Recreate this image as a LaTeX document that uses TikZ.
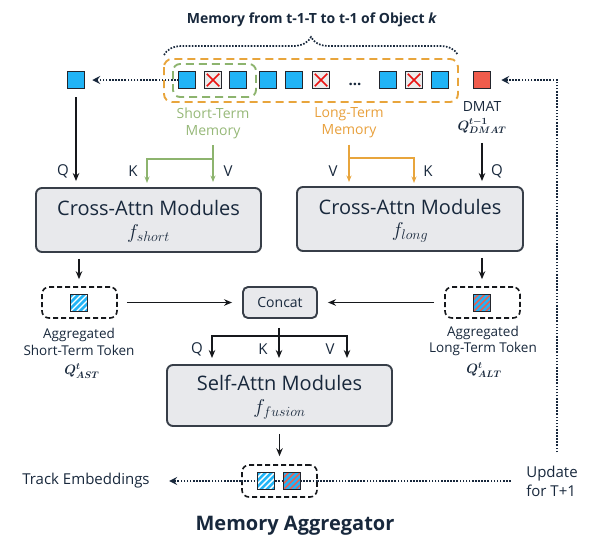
\RequirePackage{fix-cm}
\documentclass[tikz,border=0pt]{standalone}
\usepackage{fontspec}
\setmainfont{Open Sans}
\usetikzlibrary{arrows.meta,decorations.pathreplacing,calc}
\definecolor{myblue}{RGB}{33,180,246}
\definecolor{myred}{RGB}{240,92,76}
\definecolor{xfill}{RGB}{236,236,236}
\definecolor{xred}{RGB}{235,20,20}
\definecolor{sqb}{RGB}{35,38,45}
\definecolor{mgreen}{RGB}{141,180,110}
\definecolor{gtext}{RGB}{150,184,120}
\definecolor{morange}{RGB}{232,165,60}
\definecolor{otext}{RGB}{232,160,60}
\definecolor{tdark}{RGB}{24,40,60}
\definecolor{ablack}{RGB}{22,24,28}
\definecolor{bfill}{RGB}{232,233,236}
\definecolor{bdraw}{RGB}{55,62,72}
\tikzset{
  sq/.style={draw=sqb, line width=1.2pt, fill=myblue, minimum size=16.5pt, inner sep=0pt, outer sep=0pt},
  xsq/.style={sq, fill=xfill, path picture={
     \draw[xred, line width=1.6pt]
       ([shift={(2pt,2pt)}]path picture bounding box.south west) -- ([shift={(-2pt,-2pt)}]path picture bounding box.north east)
       ([shift={(2pt,-2pt)}]path picture bounding box.north west) -- ([shift={(-2pt,2pt)}]path picture bounding box.south east);}},
  hsq/.style={sq, path picture={
     \foreach \s in {-18,-12,...,18}{\draw[#1, line width=1.4pt] ([xshift=\s pt]path picture bounding box.south west) -- ++(22pt,22pt);}}},
  arr/.style={draw=ablack, line width=1.8pt, -{Stealth[length=8pt,width=6.5pt]}},
  garr/.style={draw=mgreen, line width=1.7pt, -{Stealth[length=6.5pt,width=5pt]}},
  oarr/.style={draw=morange, line width=1.7pt, -{Stealth[length=6.5pt,width=5pt]}},
  dotl/.style={draw=tdark, line width=1.7pt, dash pattern=on 1.6pt off 1.5pt},
  dotarr/.style={dotl, -{Stealth[length=8pt,width=8pt,inset=3pt]}},
  modbox/.style={draw=bdraw, fill=bfill, line width=1.9pt, rounded corners=6pt, inner sep=0pt},
  dbox/.style={draw=ablack, line width=1.6pt, dash pattern=on 5pt off 3pt, rounded corners=7pt, inner sep=0pt},
  lbl/.style={text=tdark, font=\fontsize{15}{15}\selectfont},
  small/.style={text=tdark, font=\fontsize{13.5}{16.5}\selectfont, align=center, inner sep=0pt},
  mq/.style={text=tdark, font=\fontsize{13.5}{13.5}\selectfont\boldmath, inner sep=0pt},
  big/.style={text=tdark, font=\fontsize{20}{20}\selectfont},
}
\begin{document}
\begin{tikzpicture}[x=1pt,y=-1pt]
\useasboundingbox (0,0) rectangle (593,544);

% title and brace
\node[text=tdark, font=\bfseries\fontsize{14}{14}\selectfont] (title) at (312,20) {Memory from t-1-T to t-1 of Object \textit{k}};
\draw[dotl, decorate, decoration={brace, amplitude=18pt}] (164,55) -- (458,55);

% memory boxes
\draw[draw=morange, line width=1.9pt, dash pattern=on 8pt off 5pt, rounded corners=8pt] (164,59) rectangle (458,102);
\draw[draw=mgreen, line width=1.9pt, dash pattern=on 8pt off 5pt, rounded corners=7pt] (173,64) rectangle (256,97);

\node[sq] (q0) at (76,80) {};
\node[sq] (m1) at (187,80) {};
\node[xsq] (m2) at (213,80) {};
\node[sq] (m3) at (238,80) {};
\node[sq] (m4) at (268,80) {};
\node[sq] (m5) at (294,80) {};
\node[xsq] (m6) at (321,80) {};
\node[text=tdark, font=\bfseries\fontsize{15}{15}\selectfont, anchor=base] (dots) at (355,85) {...};
\node[sq] (m7) at (388,80) {};
\node[xsq] (m8) at (414,80) {};
\node[sq] (m9) at (440,80) {};
\node[sq, fill=myred] (dm) at (482,80) {};

\draw[dotarr, shorten >=8pt] (m1.west) -- (q0.east);

% labels under memory
\node[text=gtext, font=\fontsize{14}{17}\selectfont, align=center] (stm) at (213,123) {Short-Term\\Memory};
\node[text=otext, font=\fontsize{14}{17}\selectfont, align=center] (ltm) at (349,123) {Long-Term\\Memory};
\node[text=tdark, font=\fontsize{14}{14}\selectfont] (dmat) at (482,106) {DMAT};
\node[mq] (qdmat) at (482,126) {$Q^{t-1}_{DMAT}$};

% cross-attn boxes
\node[modbox, minimum width=225pt, minimum height=64pt] (b1) at (148.5,220) {};
\node[big] (b1t) at (148.5,208) {Cross-Attn Modules};
\node[big] (b1f) at (148.5,233) {$f_{short}$};
\node[modbox, minimum width=226pt, minimum height=64pt] (b2) at (410,219) {};
\node[big] (b2t) at (410,207) {Cross-Attn Modules};
\node[big] (b2f) at (410,232) {$f_{long}$};

% Q K V inputs
\draw[arr, shorten <=9pt] (q0.south) -- ([yshift=6pt]b1.north -| q0.south);
\node[lbl] (lq1) at (63,171) {Q};
\coordinate (gj) at (213,159);
\coordinate (gk) at (147,183);
\draw[garr] ([yshift=-3pt]stm.south) -- ([yshift=5pt]b1.north -| stm.south);
\draw[garr] (gj) -| (gk);
\node[lbl] (lk1) at (133,171) {K};
\node[lbl] (lv1) at (228,171) {V};

\coordinate (oj) at (349,158);
\coordinate (ok) at (414,183);
\draw[oarr] ([yshift=-3pt]ltm.south) -- ([yshift=4pt]b2.north -| ltm.south);
\draw[oarr] (oj) -| (ok);
\node[lbl] (lv2) at (333,171) {V};
\node[lbl] (lk2) at (428,171) {K};
\draw[arr, shorten <=9pt] (qdmat.south) -- ([yshift=5pt]b2.north -| qdmat.south);
\node[lbl] (lq2) at (497,171) {Q};

% aggregated tokens
\node[dbox, minimum width=75pt, minimum height=31pt] (astb) at (79.5,302.5) {};
\node[hsq=white] (ast) at (79,303) {};
\node[dbox, minimum width=75pt, minimum height=31pt] (altb) at (482.5,302.5) {};
\node[hsq=myred] (alt) at (482,303) {};
\node[small] (astl) at (79,342) {Aggregated\\Short-Term Token};
\node[mq] (astq) at (82,371) {$Q^{t}_{AST}$};
\node[small] (altl) at (483,341) {Aggregated\\Long-Term Token};
\node[mq] (altq) at (484,370) {$Q^{t}_{ALT}$};

\draw[arr] ([yshift=-6pt]b1.south -| ast) -- ([yshift=7pt]astb.north -| ast);
\draw[arr] ([yshift=-6pt]b2.south -| alt) -- ([yshift=7pt]altb.north -| alt);

% concat
\node[modbox, rounded corners=5pt, minimum width=74pt, minimum height=31pt, text=tdark, font=\fontsize{14}{14}\selectfont] (cc) at (280,302.5) {Concat};
\draw[arr] ([xshift=9pt]astb.east) -- ([xshift=-10pt]cc.west);
\draw[arr] ([xshift=-10pt]altb.west) -- ([xshift=10pt]cc.east);

% fan out
\coordinate (fj) at (279,336);
\coordinate (fq) at (212,358);
\coordinate (fk) at (279,358);
\coordinate (fv) at (347,358);
\draw[arr] ([yshift=-9pt]cc.south -| fj) -- (fk);
\draw[arr] (fj) -| (fq);
\draw[arr] (fj) -| (fv);
\node[lbl] (lq3) at (197,349) {Q};
\node[lbl] (lk3) at (263,349) {K};
\node[lbl] (lv3) at (330,349) {V};

% self-attn
\node[modbox, minimum width=225pt, minimum height=61pt] (sa) at (279.5,395.5) {};
\node[big] (sat) at (279.5,383) {Self-Attn Modules};
\node[big] (saf) at (279.5,409) {$f_{fusion}$};

% output
\node[text=tdark, font=\fontsize{15}{15}\selectfont] (te) at (86,481) {Track Embeddings};
\node[text=tdark, font=\fontsize{15}{19}\selectfont, align=left] (upd) at (552,481) {Update\\for T+1};
\draw[dotarr] ([xshift=-12pt]upd.west) -- ([xshift=16pt]te.east);
\draw[dotarr] ([xshift=5pt,yshift=10pt]upd.north) |- ([xshift=11pt]dm.east);

\node[dbox, fill=white, minimum width=75pt, minimum height=32pt] (outb) at (279.5,481) {};
\draw[dotl] (outb.west) -- (outb.east);
\node[hsq=white] (o1) at (266,481) {};
\node[hsq=myred] (o2) at (292,481) {};
\draw[arr] ([yshift=-7pt]sa.south) -- ([yshift=8pt]outb.north);

\node[text=tdark, font=\bfseries\fontsize{20}{20}\selectfont] (ma) at (295,526) {Memory Aggregator};
\end{tikzpicture}
\end{document}
